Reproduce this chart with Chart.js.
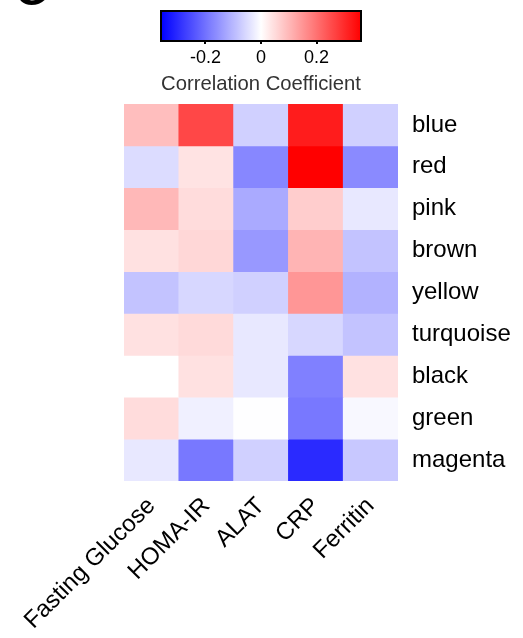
<!DOCTYPE html>
<html><head><meta charset="utf-8">
<script src="https://cdn.jsdelivr.net/npm/chart.js@4.4.0/dist/chart.umd.min.js"></script>
<style>
html,body{margin:0;padding:0;background:#fff;overflow:hidden}
#wrap{position:relative;width:523px;height:638px}
#main,#cb{position:absolute;left:0;top:0}
</style></head><body>
<div id="wrap"><canvas id="main" width="523" height="638"></canvas><canvas id="cb" width="523" height="100"></canvas></div>
<script>
// ---- data ----
const traits = ['Fasting Glucose', 'HOMA-IR', 'ALAT', 'CRP', 'Ferritin'];
const modules = ['blue', 'red', 'pink', 'brown', 'yellow', 'turquoise', 'black', 'green', 'magenta'];
const blue      = [0.092, 0.26, -0.066, 0.32, -0.066];
const red       = [-0.05, 0.04, -0.17, 0.36, -0.165];
const pink      = [0.10, 0.05, -0.12, 0.07, -0.032];
const brown     = [0.042, 0.056, -0.145, 0.106, -0.085];
const yellow    = [-0.085, -0.056, -0.066, 0.148, -0.109];
const turquoise = [0.042, 0.052, -0.032, -0.056, -0.085];
const black     = [0.0, 0.042, -0.032, -0.18, 0.042];
const green     = [0.05, -0.021, -0.001, -0.19, -0.01];
const magenta   = [-0.032, -0.19, -0.066, -0.30, -0.078];
const rows = [blue, red, pink, brown, yellow, turquoise, black, green, magenta];
const colorbarTicks = [-0.2, 0, 0.2];
const colorLimit = 0.36;

Chart.defaults.font.family = "'Liberation Sans', Arial, sans-serif";

function colorFor(v) {
  const t = Math.min(1, Math.abs(v) / colorLimit);
  const c = Math.round(255 * (1 - t));
  return v >= 0 ? `rgb(255,${c},${c})` : `rgb(${c},${c},255)`;
}

const panelLabel = {
  id: 'panelLabel',
  afterDraw(chart) {
    const ctx = chart.ctx;
    ctx.save();
    ctx.fillStyle = '#000';
    ctx.font = "bold 40px 'Liberation Sans', Arial, sans-serif";
    ctx.textBaseline = 'alphabetic';
    ctx.fillText('G', 16, 5);
    ctx.restore();
  }
};

new Chart(document.getElementById('main'), {
  type: 'bar',
  data: {
    labels: traits,
    datasets: modules.map((m, i) => ({
      label: m,
      data: traits.map(() => [i - 0.5, i + 0.5]),
      backgroundColor: rows[i].map(colorFor),
      borderWidth: 0,
      barPercentage: 1,
      categoryPercentage: 1,
      grouped: false
    }))
  },
  options: {
    responsive: false,
    animation: false,
    layout: { padding: { left: 124, top: 104, right: 0, bottom: 0 } },
    plugins: { legend: { display: false }, tooltip: { enabled: false } },
    scales: {
      x: {
        type: 'category',
        offset: true,
        grid: { display: false, drawTicks: false },
        border: { display: false },
        ticks: { maxRotation: 45, minRotation: 45, autoSkip: false, color: '#000', font: { size: 24 }, padding: 11 },
        afterFit(s) { s.height = 157; s.paddingLeft = 0; s.paddingRight = 0; }
      },
      y: {
        type: 'linear',
        position: 'right',
        min: -0.5, max: 8.5,
        reverse: true,
        grid: { display: false, drawTicks: false },
        border: { display: false },
        ticks: { color: '#000', font: { size: 24 }, padding: 14, callback: v => modules[v] ?? '' },
        afterBuildTicks(s) { s.ticks = modules.map((_, i) => ({ value: i })); },
        afterFit(s) { s.width = 125; s.paddingTop = 0; s.paddingBottom = 0; }
      }
    }
  },
  plugins: [panelLabel]
});

const gradientBar = {
  id: 'gradientBar',
  beforeDatasetsDraw(chart) {
    const { ctx, chartArea: a, scales: { x } } = chart;
    const g = ctx.createLinearGradient(a.left, 0, a.right, 0);
    const n = 40;
    for (let k = 0; k <= n; k++) {
      const v = -colorLimit + (2 * colorLimit) * k / n;
      g.addColorStop((x.getPixelForValue(v) - a.left) / (a.right - a.left), colorFor(v));
    }
    ctx.save();
    ctx.fillStyle = g;
    ctx.fillRect(a.left, a.top, a.right - a.left, a.bottom - a.top);
    ctx.strokeStyle = '#000';
    ctx.lineWidth = 2;
    ctx.strokeRect(a.left, a.top, a.right - a.left, a.bottom - a.top);
    ctx.restore();
  }
};

new Chart(document.getElementById('cb'), {
  type: 'scatter',
  data: { datasets: [{ data: [] }] },
  options: {
    responsive: false,
    animation: false,
    layout: { padding: { left: 161, right: 162, top: 11, bottom: 0 } },
    plugins: { legend: { display: false }, tooltip: { enabled: false } },
    scales: {
      x: {
        type: 'linear',
        min: -colorLimit, max: colorLimit,
        grid: { display: true, drawOnChartArea: false, drawTicks: true, tickLength: 3, color: '#000', lineWidth: 2 },
        border: { display: false },
        ticks: { color: '#000', font: { size: 18 }, padding: 3, callback: v => (v === 0 ? '0' : String(v)) },
        afterBuildTicks(s) { s.ticks = colorbarTicks.map(v => ({ value: v })); },
        title: { display: true, text: 'Correlation Coefficient', color: '#333', font: { size: 21 }, padding: { top: 2, bottom: 3 } },
        afterFit(s) { s.height = 59; s.paddingLeft = 0; s.paddingRight = 0; }
      },
      y: { display: false, min: 0, max: 1 }
    }
  },
  plugins: [gradientBar]
});
</script>
</body></html>
